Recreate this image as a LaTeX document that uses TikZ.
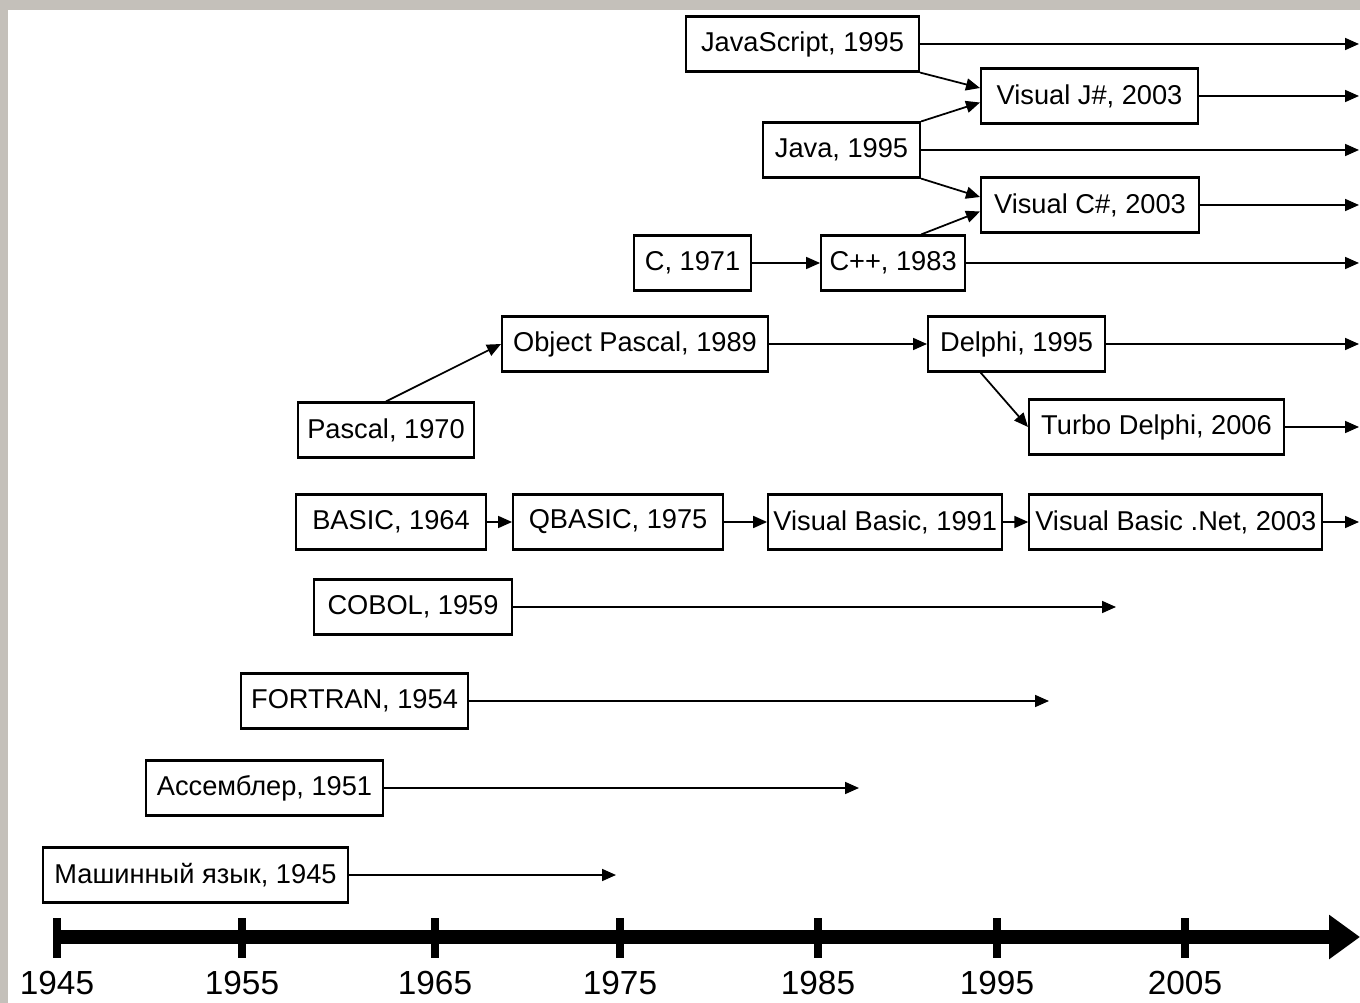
\documentclass[tikz,border=0pt]{standalone}
\usepackage{fontspec}
\setmainfont{Liberation Sans}
\usepackage{tikz}
\usetikzlibrary{arrows.meta, positioning, calc}
\definecolor{colFrame}{RGB}{196,192,186}
\definecolor{colInk}{RGB}{0,0,0}
\tikzset{
  lang/.style={
    draw=colInk, rectangle, line width=1.2pt, fill=white,
    minimum height=1.1cm, inner xsep=3pt, anchor=west,
    font=\fontsize{15.5}{18}\selectfont
  },
  flow/.style={
    draw=colInk, -{Triangle[length=0.28cm, width=0.24cm]}, line width=1pt
  },
  axis/.style={
    draw=colInk, -{Triangle[length=0.62cm, width=0.85cm]}, line width=8.5pt
  },
  tick/.style={
    draw=colInk, line width=4pt
  },
  year/.style={
    font=\fontsize{19}{22}\selectfont, inner sep=1pt
  },
}

\begin{document}
\begin{tikzpicture}[x=0.02cm, y=-0.02cm]

% ── Frame ──────────────────────────────────────────────────────────────────
\useasboundingbox (0,0) rectangle (1360,1003);
\fill[colFrame] (0,0) rectangle (1360,1003);
\fill[white] (8,10) rectangle (1360,1003);

% ── Nodes ──────────────────────────────────────────────────────────────────
% Top block: JavaScript / Java / C
\node[lang, minimum width=4.66cm] (js)   at (685,44)  {JavaScript, 1995};
\node[lang, minimum width=4.34cm] (vjs)  at (980,96)  {Visual J\#, 2003};
\node[lang, minimum width=3.14cm] (java) at (762,150) {Java, 1995};
\node[lang, minimum width=4.36cm] (vcs)  at (980,205) {Visual C\#, 2003};
\node[lang, minimum width=2.34cm] (c)    at (633,263) {C, 1971};
\node[lang, minimum width=2.88cm, right=1.36cm of c] (cpp) {C++, 1983};

% Pascal branch
\node[lang, minimum width=5.32cm] (opas)   at (501,344) {Object Pascal, 1989};
\node[lang, minimum width=3.54cm, right=3.16cm of opas] (delphi) {Delphi, 1995};
\node[lang, minimum width=3.52cm] (pascal) at (297,430) {Pascal, 1970};
\node[lang, minimum width=5.10cm] (turbo)  at (1028,427) {Turbo Delphi, 2006};

% BASIC chain
\node[lang, minimum width=3.80cm] (basic) at (295,522) {BASIC, 1964};
\node[lang, minimum width=4.20cm, right=0.5cm of basic]   (qbasic) {QBASIC, 1975};
\node[lang, minimum width=4.66cm, right=0.86cm of qbasic] (vb)     {Visual Basic, 1991};
\node[lang, minimum width=5.86cm, right=0.5cm of vb]      (vbnet)  {Visual Basic .Net, 2003};

% Early languages
\node[lang, minimum width=3.96cm] (cobol)   at (313,607) {COBOL, 1959};
\node[lang, minimum width=4.54cm] (fortran) at (240,701) {FORTRAN, 1954};
\node[lang, minimum width=4.74cm] (asm)     at (145,788) {Ассемблер, 1951};
\node[lang, minimum width=6.10cm] (mach)    at (42,875)  {Машинный язык, 1945};

% Arrow stops
\coordinate (rim)       at (1359,0);
\coordinate (cobolStop) at (1116,0);
\coordinate (fortStop)  at (1049,0);
\coordinate (asmStop)   at (859,0);
\coordinate (machStop)  at (616,0);

% ── Flows ──────────────────────────────────────────────────────────────────
% Lines running on past the right edge
\foreach \n in {js, vjs, java, vcs, cpp, delphi, turbo, vbnet}
  \draw[flow] (\n.east) -- (\n.east -| rim);

% Lines that stop
\draw[flow] (cobol.east)   -- (cobol.east -| cobolStop);
\draw[flow] (fortran.east) -- (fortran.east -| fortStop);
\draw[flow] (asm.east)     -- (asm.east -| asmStop);
\draw[flow] (mach.east)    -- (mach.east -| machStop);

% Descendants
\draw[flow] (js.south east)   -- ([yshift=0.16cm]vjs.west);
\draw[flow] (java.north east) -- ([yshift=-0.13cm]vjs.west);
\draw[flow] (java.south east) -- ([yshift=0.16cm]vcs.west);
\draw[flow] ([xshift=0.56cm]cpp.north) -- ([yshift=-0.13cm]vcs.west);
\draw[flow] (c) -- (cpp);
\draw[flow] (pascal.north) -- (opas.west);
\draw[flow] (opas) -- (delphi);
\draw[flow] ([xshift=-0.72cm]delphi.south) -- (turbo.west);
\draw[flow] (basic) -- (qbasic);
\draw[flow] (qbasic) -- (vb);
\draw[flow] (vb) -- (vbnet);

% ── Time axis ──────────────────────────────────────────────────────────────
\coordinate (axisStart) at (55,937);
\coordinate (axisEnd)   at (1360,937);
\draw[axis] (axisStart) -- (axisEnd);
\foreach \x/\yr in {57/1945, 242/1955, 435/1965, 620/1975, 818/1985, 997/1995, 1185/2005} {
  \draw[tick] (\x,918) -- (\x,958);
  \node[year] (y\yr) at (\x,983) {\yr};
}

\end{tikzpicture}
\end{document}
